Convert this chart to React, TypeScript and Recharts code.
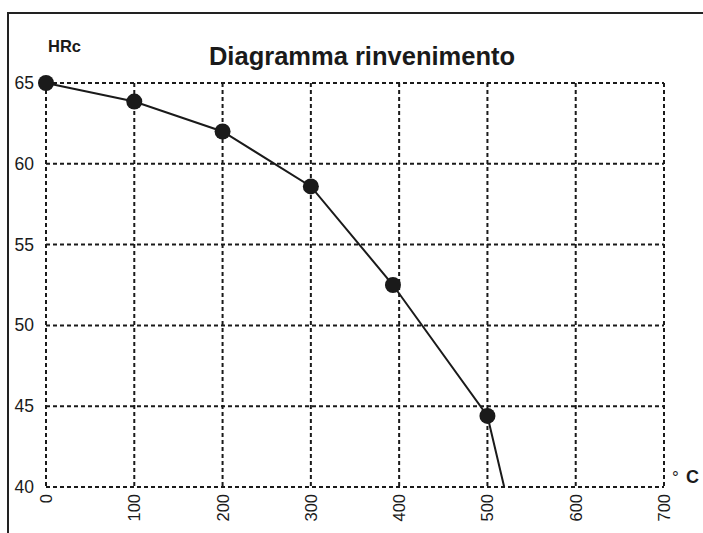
import React from "react"
import {
  LineChart,
  Line,
  XAxis,
  YAxis,
  CartesianGrid,
  Customized,
} from "recharts"

// Tempering diagram: hardness (HRc) vs. temperature (°C)
const temperatures = [0, 100, 200, 300, 393, 500, 519]
const hardness = [65, 63.85, 62, 58.6, 52.5, 44.4, 40]
const marked = [true, true, true, true, true, true, false]

const xTicks = [0, 100, 200, 300, 400, 500, 600, 700]
const yTicks = [40, 45, 50, 55, 60, 65]

const title = "Diagramma rinvenimento"
const yUnit = "HRc"

const data = temperatures.map((t, i) => ({
  temp: t,
  hrc: hardness[i],
  marked: marked[i],
}))

const FONT = "'Liberation Sans', Arial, Helvetica, sans-serif"
const INK = "#1a1a1a"

const YTick = (props: any) => {
  const { x, y, payload } = props
  return (
    <text
      x={x - 4}
      y={y}
      textAnchor="end"
      dominantBaseline="central"
      fontSize={17.5}
      fontFamily={FONT}
      fill={INK}
    >
      {payload.value}
    </text>
  )
}

const XTick = (props: any) => {
  const { x, y, payload } = props
  return (
    <text
      transform={`translate(${x},${y - 1}) rotate(-90)`}
      textAnchor="end"
      dominantBaseline="central"
      fontSize={16.5}
      fontFamily={FONT}
      fill={INK}
    >
      {payload.value}
    </text>
  )
}

const Dot = (props: any) => {
  const { cx, cy, payload, index } = props
  if (!payload.marked) return <g key={`d-${index}`} />
  return <circle key={`d-${index}`} cx={cx} cy={cy} r={8} fill={INK} />
}

const Labels = () => (
  <g fontFamily={FONT} fill={INK} fontWeight="bold">
    <text x={362} y={65} textAnchor="middle" fontSize={25.5}>
      {title}
    </text>
    <text x={48} y={52} fontSize={16.5}>
      {yUnit}
    </text>
    <text x={672} y={483} fontSize={17} fontWeight="normal">
      °
    </text>
    <text x={686} y={483} fontSize={18}>
      C
    </text>
  </g>
)

export default function App() {
  return (
    <div style={{ position: "absolute", left: 0, top: 0, width: 703, height: 533, background: "#fff" }}>
      <div
        style={{
          position: "absolute",
          left: 7,
          top: 12,
          width: 720,
          height: 560,
          borderLeft: "2.5px solid #222",
          borderTop: "2.5px solid #222",
        }}
      />
      <LineChart
        width={703}
        height={533}
        data={data}
        margin={{ top: 83, right: 39, bottom: 0, left: 0 }}
        style={{ position: "absolute", left: 0, top: 0 }}
      >
        <CartesianGrid stroke={INK} strokeWidth={2} strokeDasharray="4 3" />
        <XAxis
          dataKey="temp"
          type="number"
          domain={[0, 700]}
          ticks={xTicks}
          height={46}
          axisLine={false}
          tickLine={false}
          tick={<XTick />}
          interval={0}
        />
        <YAxis
          type="number"
          domain={[40, 65]}
          ticks={yTicks}
          width={46}
          axisLine={false}
          tickLine={false}
          tick={<YTick />}
          interval={0}
        />
        <Line
          dataKey="hrc"
          type="linear"
          stroke={INK}
          strokeWidth={2}
          dot={Dot}
          activeDot={false}
          isAnimationActive={false}
        />
        <Customized component={Labels} />
      </LineChart>
    </div>
  )
}
